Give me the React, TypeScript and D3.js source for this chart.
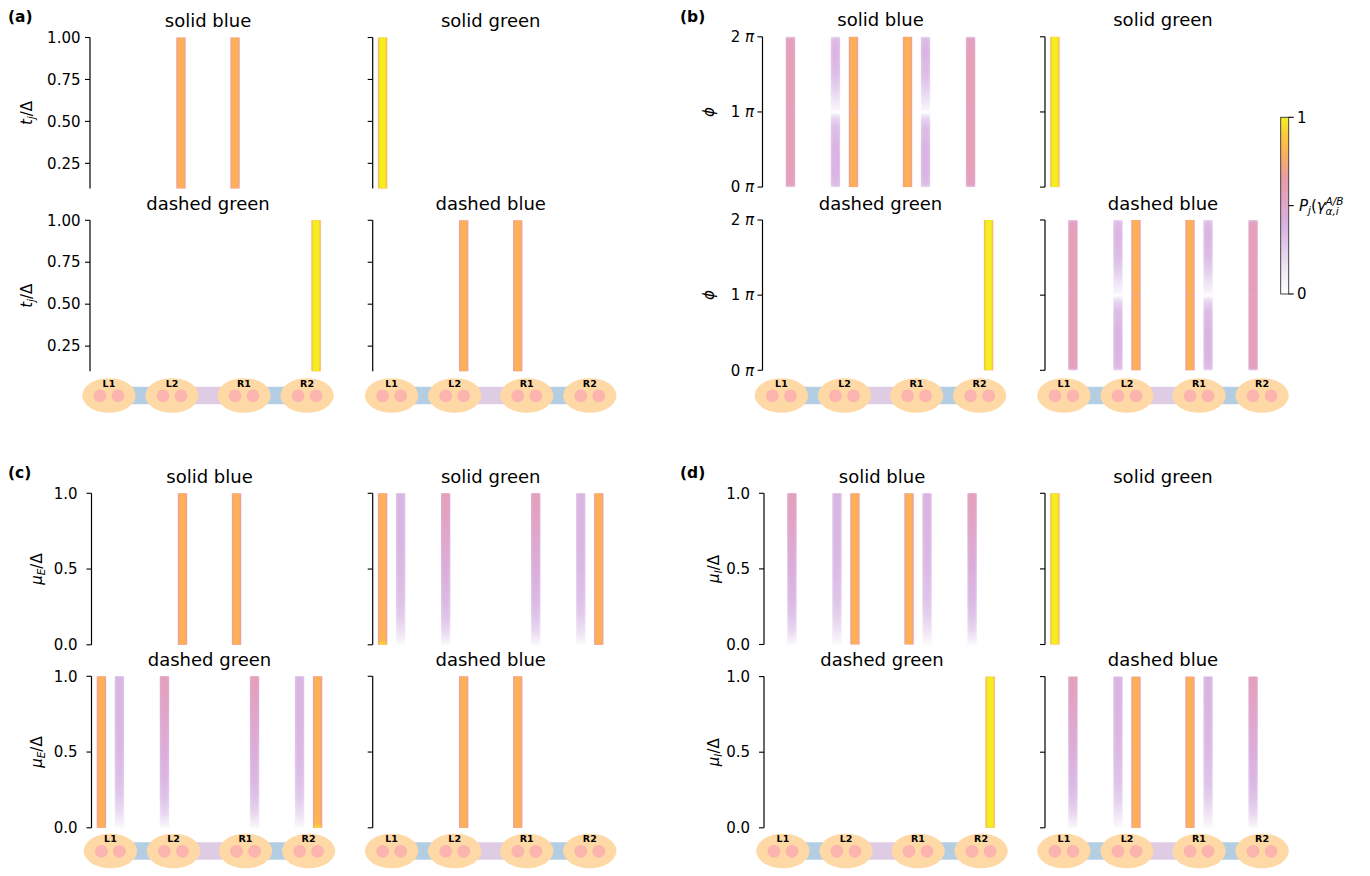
import React from "react";
import * as d3 from "d3";

// ---------------- data ----------------
const SITE_X = [0, 1, 3.5, 4.5, 7.5, 8.5, 11, 12];
const DOT_LABELS = ["L1", "L2", "R1", "R2"];
const DOT_X = [0.5, 4, 8, 11.5];
const BOND_FROM = [0, 1, 2];
const BOND_TO = [1, 2, 3];
const BOND_COLORS = ["#b3cde3", "#decbe4", "#b3cde3"];
const SUBPLOT_TITLES = ["solid blue", "solid green", "dashed green", "dashed blue"];
const PANEL_LETTERS = ["(a)", "(b)", "(c)", "(d)"];

const CMAP_POS = [0, 0.15, 0.3, 0.4, 0.55, 0.65, 0.8, 0.9, 1];
const CMAP_COL = ["#ffffff", "#efe4f4", "#dfc4ea", "#d9b0e0", "#e3a2c0", "#eb9ba6", "#feb055", "#fcca3c", "#f5ee1f"];
const CB_TICKS = [0, 0.5, 1];

// (a) t_j / Delta
const A_T = [0.1, 1.0];
const A_TICKS = [0.25, 0.5, 0.75, 1.0];
const A_SOLID_BLUE = [0, 0, 0, 0.8, 0.8, 0, 0, 0];
const A_SOLID_GREEN = [1, 0, 0, 0, 0, 0, 0, 0];
const A_DASHED_GREEN = [0, 0, 0, 0, 0, 0, 0, 1];
const A_DASHED_BLUE = [0, 0, 0, 0.8, 0.8, 0, 0, 0];

// (b) phi (units of pi)
const B_PHI = [0, 0.03, 0.2, 0.5, 0.8, 0.9, 0.96, 0.985, 1.0, 1.015, 1.04, 1.15, 1.3, 1.5, 1.8, 1.97, 2.0];
const B_TICKS = [0, 1, 2];
const B_PINK = [0.3, 0.56, 0.6, 0.6, 0.6, 0.6, 0.6, 0.6, 0.53, 0.6, 0.6, 0.6, 0.6, 0.6, 0.6, 0.56, 0.3];
const B_LAV = [0.22, 0.34, 0.38, 0.38, 0.33, 0.24, 0.13, 0.03, 0, 0.03, 0.07, 0.14, 0.24, 0.33, 0.38, 0.34, 0.22];
const B_ORANGE = [0.8, 0.8, 0.8, 0.8, 0.8, 0.8, 0.8, 0.8, 0.74, 0.8, 0.8, 0.8, 0.8, 0.8, 0.8, 0.8, 0.8];
const B_SOLID_BLUE = [0, B_PINK, B_LAV, B_ORANGE, B_ORANGE, B_LAV, B_PINK, 0];
const B_SOLID_GREEN = [1, 0, 0, 0, 0, 0, 0, 0];
const B_DASHED_GREEN = [0, 0, 0, 0, 0, 0, 0, 1];
const B_DASHED_BLUE = [0, B_PINK, B_LAV, B_ORANGE, B_ORANGE, B_LAV, B_PINK, 0];

// (c) mu_E / Delta
const C_MU = [0, 0.03, 0.1, 0.2, 0.3, 0.5, 0.7, 0.85, 1.0];
const C_TICKS = [0, 0.5, 1];
const C_END_TIP = [0.95, 0.82, 0.8, 0.8, 0.8, 0.8, 0.8, 0.8, 0.8];
const C_LAV = [0.03, 0.08, 0.18, 0.27, 0.32, 0.36, 0.38, 0.38, 0.38];
const C_PINK = [0.04, 0.1, 0.22, 0.31, 0.36, 0.43, 0.5, 0.55, 0.58];
const C_SOLID_BLUE = [0, 0, 0, 0.8, 0.8, 0, 0, 0];
const C_SOLID_GREEN = [C_END_TIP, C_LAV, C_PINK, 0, 0, C_PINK, C_LAV, 0.8];
const C_DASHED_GREEN = [0.8, C_LAV, C_PINK, 0, 0, C_PINK, C_LAV, C_END_TIP];
const C_DASHED_BLUE = [0, 0, 0, 0.8, 0.8, 0, 0, 0];

// (d) mu_I / Delta
const D_MU = [0, 0.03, 0.1, 0.2, 0.3, 0.5, 0.7, 0.85, 1.0];
const D_TICKS = [0, 0.5, 1];
const D_PINK = [0.04, 0.1, 0.22, 0.31, 0.36, 0.43, 0.5, 0.55, 0.58];
const D_LAV = [0.03, 0.07, 0.16, 0.25, 0.3, 0.35, 0.37, 0.38, 0.38];
const D_SOLID_BLUE = [0, D_PINK, D_LAV, 0.8, 0.8, D_LAV, D_PINK, 0];
const D_SOLID_GREEN = [1, 0, 0, 0, 0, 0, 0, 0];
const D_DASHED_GREEN = [0, 0, 0, 0, 0, 0, 0, 1];
const D_DASHED_BLUE = [0, D_PINK, D_LAV, 0.8, 0.8, D_LAV, D_PINK, 0];

// ---------------- drawing ----------------
const FONT = "DejaVu Sans";
const SUB_W = 236;
const X_DOMAIN = [-0.55, 12.55];
const BAR_W = 0.52;
const EDGE_FACTOR = 0.78;

function YLabel({ kind }: { kind: string }) {
  if (kind === "a")
    return (
      <>
        <tspan fontStyle="italic">t</tspan>
        <tspan fontStyle="italic" fontSize={10.5} dy={3}>j</tspan>
        <tspan dy={-3}>/Δ</tspan>
      </>
    );
  if (kind === "b") return <tspan fontStyle="italic">ϕ</tspan>;
  if (kind === "c")
    return (
      <>
        <tspan fontStyle="italic">μ</tspan>
        <tspan fontStyle="italic" fontSize={10.5} dy={3}>E</tspan>
        <tspan dy={-3}>/Δ</tspan>
      </>
    );
  return (
    <>
      <tspan fontStyle="italic">μ</tspan>
      <tspan fontStyle="italic" fontSize={10.5} dy={3}>I</tspan>
      <tspan dy={-3}>/Δ</tspan>
    </>
  );
}

export default function App() {
  const cmap = d3
    .scaleLinear<string>()
    .domain(CMAP_POS)
    .range(CMAP_COL)
    .interpolate(d3.interpolateRgb)
    .clamp(true);

  const fmt2 = d3.format(".2f");
  const fmt1 = d3.format(".1f");

  const panels = [
    { letter: PANEL_LETTERS[0], lx: 8, ly: 22, left: 90, right: 372.7, rows: [37.5, 220.3], h: 151,
      samples: A_T, ticks: A_TICKS, fmt: (d: number) => <tspan>{fmt2(d)}</tspan>,
      data: [A_SOLID_BLUE, A_SOLID_GREEN, A_DASHED_GREEN, A_DASHED_BLUE], kind: "a", labelX: 32, tickGap: 9.5, chainY: 395.5 },
    { letter: PANEL_LETTERS[1], lx: 680, ly: 22, left: 762.5, right: 1045, rows: [36.8, 220], h: 150.3,
      samples: B_PHI, ticks: B_TICKS,
      fmt: (d: number) => (<><tspan>{`${d} `}</tspan><tspan fontStyle="italic">π</tspan></>),
      data: [B_SOLID_BLUE, B_SOLID_GREEN, B_DASHED_GREEN, B_DASHED_BLUE], kind: "b", labelX: 714, tickGap: 8.5, chainY: 395.5 },
    { letter: PANEL_LETTERS[2], lx: 8, ly: 478, left: 91.5, right: 372.7, rows: [493.3, 676.3], h: 151.5,
      samples: C_MU, ticks: C_TICKS, fmt: (d: number) => <tspan>{fmt1(d)}</tspan>,
      data: [C_SOLID_BLUE, C_SOLID_GREEN, C_DASHED_GREEN, C_DASHED_BLUE], kind: "c", labelX: 42, tickGap: 14, chainY: 851 },
    { letter: PANEL_LETTERS[3], lx: 680, ly: 478, left: 764, right: 1045, rows: [493.3, 676.6], h: 151.2,
      samples: D_MU, ticks: D_TICKS, fmt: (d: number) => <tspan>{fmt1(d)}</tspan>,
      data: [D_SOLID_BLUE, D_SOLID_GREEN, D_DASHED_GREEN, D_DASHED_BLUE], kind: "d", labelX: 719, tickGap: 14, chainY: 851 },
  ];

  const defs: React.ReactNode[] = [];
  const marks: React.ReactNode[] = [];

  panels.forEach((p, pi) => {
    const d0 = p.samples[0];
    const d1 = p.samples[p.samples.length - 1];
    marks.push(
      <text key={`pl${pi}`} x={p.lx} y={p.ly} fontSize={15.5} fontWeight="bold">{p.letter}</text>
    );
    for (let s = 0; s < 4; s++) {
      const x0 = s % 2 === 0 ? p.left : p.right;
      const top = p.rows[s < 2 ? 0 : 1];
      const x = d3.scaleLinear().domain(X_DOMAIN).range([x0, x0 + SUB_W]);
      const y = d3.scaleLinear().domain([d0, d1]).range([top + p.h, top]);
      const bw = x(BAR_W) - x(0);
      const g: React.ReactNode[] = [];
      g.push(
        <text key="t" x={x0 + SUB_W / 2} y={top - 10.5} fontSize={18} textAnchor="middle">{SUBPLOT_TITLES[s]}</text>
      );
      p.data[s].forEach((prof: any, site: number) => {
        if (prof === 0) return;
        const id = `g${pi}_${s}_${site}`;
        const vals: number[] = typeof prof === "number" ? p.samples.map(() => prof) : prof;
        const stops = p.samples
          .map((sv: number, k: number) => ({ off: (y(sv) - y(d1)) / (y(d0) - y(d1)), v: vals[k] }))
          .sort((a: any, b: any) => a.off - b.off);
        defs.push(
          <linearGradient key={id + "c"} id={id + "c"} x1="0" y1="0" x2="0" y2="1">
            {stops.map((st: any, k: number) => (
              <stop key={k} offset={st.off} stopColor={cmap(st.v)} />
            ))}
          </linearGradient>,
          <linearGradient key={id + "e"} id={id + "e"} x1="0" y1="0" x2="0" y2="1">
            {stops.map((st: any, k: number) => (
              <stop key={k} offset={st.off} stopColor={cmap(st.v * EDGE_FACTOR)} />
            ))}
          </linearGradient>
        );
        const bx = x(SITE_X[site]) - bw / 2;
        const by = y(d1);
        const bh = y(d0) - y(d1);
        g.push(
          <rect key={id + "re"} x={bx} y={by} width={bw} height={bh} fill={`url(#${id}e)`} />,
          <rect key={id + "rc"} x={bx} y={by} width={bw} height={bh} fill={`url(#${id}c)`} mask="url(#hmask)" />
        );
      });
      g.push(<line key="sp" x1={x0} x2={x0} y1={y(d1)} y2={y(d0)} stroke="#000" strokeWidth={1.2} />);
      p.ticks.forEach((t: number, k: number) => {
        g.push(<line key={"tk" + k} x1={x0 - 5} x2={x0} y1={y(t)} y2={y(t)} stroke="#000" strokeWidth={1.1} />);
        if (s % 2 === 0)
          g.push(
            <text key={"tl" + k} x={x0 - p.tickGap} y={y(t)} dy="0.35em" fontSize={15} textAnchor="end">{p.fmt(t)}</text>
          );
      });
      if (s % 2 === 0) {
        const cy = (y(d0) + y(d1)) / 2;
        g.push(
          <text key="yl" transform={`translate(${p.labelX},${cy}) rotate(-90)`} fontSize={15} textAnchor="middle">
            <YLabel kind={p.kind} />
          </text>
        );
      }
      if (s >= 2) {
        const cy = p.chainY;
        BOND_FROM.forEach((f, k) => {
          const xa = x(DOT_X[f]);
          const xb = x(DOT_X[BOND_TO[k]]);
          g.push(<rect key={"b" + k} x={xa} y={cy - 8.7} width={xb - xa} height={17.4} fill={BOND_COLORS[k]} />);
        });
        DOT_X.forEach((dx, k) => {
          g.push(<ellipse key={"e" + k} cx={x(dx)} cy={cy} rx={26.7} ry={17.2} fill="#fed9a6" />);
        });
        SITE_X.forEach((sx, k) => {
          g.push(<circle key={"c" + k} cx={x(sx)} cy={cy + 0.3} r={6.4} fill="#fbb4ae" />);
        });
        DOT_X.forEach((dx, k) => {
          g.push(
            <text key={"l" + k} x={x(dx)} y={cy - 12.2} dy="0.35em" fontSize={9.5} fontWeight="bold" textAnchor="middle">{DOT_LABELS[k]}</text>
          );
        });
      }
      marks.push(<g key={`p${pi}s${s}`}>{g}</g>);
    }
  });

  const cbX = 1280.7;
  const cbW = 8;
  const cbY = d3.scaleLinear().domain([0, 1]).range([294, 117.3]);
  const cbStops = d3.range(0, 1.0001, 0.05);

  return (
    <svg width={1370} height={876} style={{ position: "absolute", left: 0, top: 0, display: "block" }} fontFamily={FONT}>
      <defs>
        <linearGradient id="hgrad" x1="0" y1="0" x2="1" y2="0">
          <stop offset="0" stopColor="#000" />
          <stop offset="0.25" stopColor="#fff" />
          <stop offset="0.75" stopColor="#fff" />
          <stop offset="1" stopColor="#000" />
        </linearGradient>
        <mask id="hmask" maskContentUnits="objectBoundingBox">
          <rect x="0" y="0" width="1" height="1" fill="url(#hgrad)" />
        </mask>
        <linearGradient id="cbgrad" x1="0" y1="1" x2="0" y2="0">
          {cbStops.map((v, k) => (
            <stop key={k} offset={v} stopColor={cmap(v)} />
          ))}
        </linearGradient>
        <clipPath id="cbclip">
          <rect x={0} y={0} width={1351} height={876} />
        </clipPath>
        {defs}
      </defs>
      <rect x={0} y={0} width={1370} height={876} fill="#fff" />
      {marks}
      <g>
        <rect x={cbX} y={cbY(1)} width={cbW} height={cbY(0) - cbY(1)} fill="url(#cbgrad)" stroke="#333" strokeWidth={0.9} />
        {CB_TICKS.map((t, k) => (
          <line key={k} x1={cbX + cbW} x2={cbX + cbW + 5} y1={cbY(t)} y2={cbY(t)} stroke="#000" strokeWidth={1.1} />
        ))}
        <text x={1297} y={cbY(1)} dy="0.35em" fontSize={15}>1</text>
        <text x={1297} y={cbY(0)} dy="0.35em" fontSize={15}>0</text>
        <g clipPath="url(#cbclip)">
          <text x={1299} y={cbY(0.5) + 5.5} fontSize={15}>
            <tspan fontStyle="italic">P</tspan>
            <tspan fontStyle="italic" fontSize={10.5} dy={3}>j</tspan>
            <tspan dy={-3}>(</tspan>
            <tspan fontStyle="italic">γ</tspan>
          </text>
          <text x={1325.5} y={cbY(0.5) - 0.5} fontSize={10.5} fontStyle="italic">A/B</text>
          <text x={1325.5} y={cbY(0.5) + 9} fontSize={10.5} fontStyle="italic">α,i</text>
        </g>
      </g>
    </svg>
  );
}
